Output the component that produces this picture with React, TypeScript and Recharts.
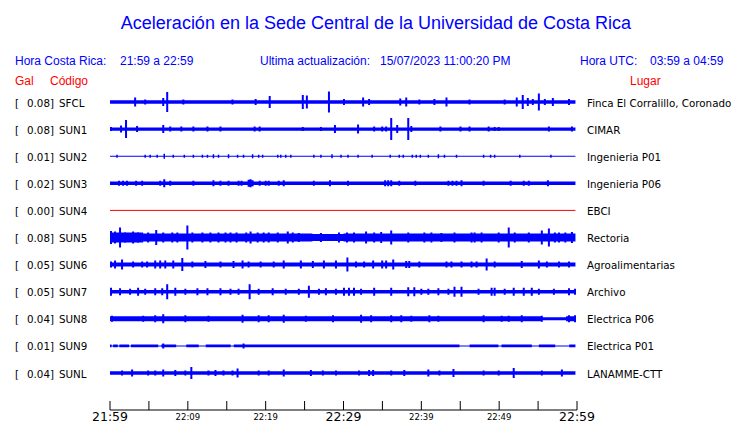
import React from 'react';
import { ComposedChart, Area, Line, XAxis, YAxis } from 'recharts';

// ---- categories / labels ----
const codes = ['SFCL', 'SUN1', 'SUN2', 'SUN3', 'SUN4', 'SUN5', 'SUN6', 'SUN7', 'SUN8', 'SUN9', 'SUNL'];
const pgaGal = ['0.08', '0.08', '0.01', '0.02', '0.00', '0.08', '0.05', '0.05', '0.04', '0.01', '0.04'];
const places = [
  'Finca El Corralillo, Coronado', 'CIMAR', 'Ingenieria P01', 'Ingenieria P06', 'EBCI', 'Rectoria',
  'Agroalimentarias', 'Archivo', 'Electrica P06', 'Electrica P01', 'LANAMME-CTT',
];
const traceColors = ['#0000ff', '#0000ff', '#0000ff', '#0000ff', '#ff0000', '#0000ff', '#0000ff', '#0000ff', '#0000ff', '#0000ff', '#0000ff'];

// time axis: minutes after 21:59
const timeTicks = [0, 5, 10, 15, 20, 25, 30, 35, 40, 45, 50, 55, 60];
const timeLabels: Record<number, string> = { 0: '21:59', 10: '22:09', 20: '22:19', 30: '22:29', 40: '22:39', 50: '22:49', 60: '22:59' };
const majorTimes = [0, 30, 60];
const traceEnd = 59.8;

// ---- background noise level (half amplitude, counts) ----
const baseLevel = [1.7, 1.7, 0.5, 1.8, 0, 4, 2, 1.8, 2.5, 1.3, 1.7];
// step changes of the noise band [minute, half amplitude]
const sun5Band = [[0, 5], [4, 4], [26, 3.5], [30, 4], [traceEnd, 4]];
const sun8Band = [[0, 2.5], [55.5, 1.5], [58.6, 2.5], [traceEnd, 2.5]];
const sun9Band = [[0, 1.3], [0.2, 0.5], [0.4, 1.3], [1.0, 0.5], [1.2, 1.3], [2.45, 0.5], [2.7, 1.3], [6.2, 0.5], [6.6, 1.3], [8.5, 0.5], [9.8, 1.3], [11.4, 0.5], [12.3, 1.3], [15.5, 0.5], [15.9, 1.3], [44.9, 0.5], [46.2, 1.3], [49.9, 0.5], [50.3, 1.3], [54.2, 0.5], [55.1, 1.3], [57.2, 0.5], [59.0, 1.3], [traceEnd, 1.3]];

// ---- bursts [minute, half amplitude] ----
const sfclBursts = [[3.23, 4.5], [4.52, 2.5], [6.84, 4], [7.35, 10], [9.42, 2.5], [15.74, 2.5], [18.71, 3], [20.52, 6], [24.77, 7], [25.29, 6.5], [28.13, 10.5], [30.06, 3], [32.52, 4.5], [33.29, 3], [37.29, 3.5], [38.06, 4.5], [39.74, 2.5], [41.68, 3], [43.23, 4.5], [46.19, 2.5], [50.71, 2.5], [52.26, 4.5], [53.03, 7], [53.68, 4], [54.32, 3], [55.1, 8.5], [55.87, 3], [56.9, 4], [58.97, 3]];
const sun1Bursts = [[0.13, 2], [1.42, 3.5], [2.06, 9], [3.48, 3], [6.84, 4], [7.74, 2.5], [9.16, 2.5], [10.71, 2.5], [12.52, 2.5], [14.19, 2.5], [18.58, 2.5], [19.23, 2.5], [24.77, 2], [27.1, 2], [28.9, 4], [31.87, 4.5], [33.94, 2.5], [34.97, 2.5], [35.48, 2.5], [36.13, 11], [36.9, 4], [38.32, 11], [38.71, 3], [42.45, 2.5], [45.03, 2.5], [46.19, 2.5], [48.65, 2.5], [49.42, 2], [49.94, 2], [56.39, 2.5], [59.35, 2.5]];
const sun2Bursts = [[0.9, 1.5], [4.52, 1.5], [5.16, 1.5], [6.06, 1.5], [6.97, 2.5], [8.13, 1.5], [9.55, 1.5], [10.71, 1.5], [11.87, 1.5], [12.52, 1.5], [13.29, 2], [13.94, 1.5], [15.23, 2], [16.39, 1.5], [17.16, 1.5], [18.32, 2], [19.1, 1.5], [19.61, 1.5], [21.55, 1.5], [21.94, 1.5], [22.58, 1.5], [23.23, 1.5], [26.19, 1.5], [27.1, 1.5], [28.52, 2], [29.68, 1.5], [30.58, 1.5], [31.87, 1.5], [33.68, 1.5], [36.0, 1.5], [37.16, 1.5], [37.68, 1.5], [38.84, 1.5], [39.35, 1.5], [39.87, 1.5], [40.9, 1.5], [42.19, 2], [42.97, 1.5], [44.52, 1.5], [48.0, 1.5], [48.9, 1.5], [49.42, 1.5], [52.65, 1.5], [56.65, 1.5]];
const sun3Bursts = [[1.16, 2.5], [1.68, 2.5], [2.19, 2.5], [3.35, 2.5], [4.13, 2.5], [6.45, 2.5], [6.97, 4], [7.74, 2.5], [10.71, 2.5], [13.29, 3], [14.19, 2.5], [15.23, 2.5], [16.52, 2.5], [16.9, 2.5], [17.81, 3.5], [18.06, 4], [18.32, 3], [19.23, 2.5], [20.0, 2.5], [20.39, 2.5], [21.68, 2.5], [22.32, 3], [26.19, 2.5], [28.26, 3], [30.58, 2.5], [35.35, 3], [35.74, 3], [36.13, 3], [37.16, 2.5], [39.23, 2.5], [43.48, 2.5], [44.0, 2.5], [44.52, 2.5], [45.16, 3], [48.0, 2.5], [51.48, 2.5], [53.16, 2.5], [53.81, 2.5], [56.26, 3]];
const sun4Bursts: number[][] = [];
const sun5Bursts = [[0.13, 6.5], [0.65, 6], [1.29, 10], [1.94, 5], [2.97, 6], [3.61, 5], [4.13, 5], [4.9, 5], [5.94, 7.5], [6.84, 5], [8.0, 5], [8.65, 5], [9.94, 12], [10.58, 5], [11.87, 5], [12.9, 5], [13.94, 5], [14.84, 5], [15.48, 5], [16.26, 5], [17.5, 5], [18.06, 6], [18.97, 5], [19.74, 5], [20.39, 5], [21.55, 5], [22.84, 6], [23.48, 5], [24.26, 4.5], [27.1, 4.5], [29.42, 5], [30.45, 5], [31.35, 5], [32.9, 6], [33.94, 5], [34.84, 5.5], [36.13, 7], [38.32, 5], [40.39, 5], [41.29, 5], [42.58, 4.5], [44.26, 5], [46.45, 5], [46.84, 5], [47.74, 5], [49.94, 5], [51.23, 10], [52.0, 5], [53.81, 5], [55.48, 7], [56.39, 9], [57.16, 5], [57.68, 5], [58.5, 5], [59.35, 5.5]];
const sun6Bursts = [[0.13, 3], [0.65, 4], [1.55, 5], [2.97, 3], [4.13, 3], [4.77, 3], [5.81, 4], [6.45, 4], [7.1, 4], [8.13, 4], [9.29, 6.5], [10.58, 3], [12.26, 3.5], [14.19, 3], [15.87, 3.5], [17.03, 4], [17.81, 3], [19.35, 3], [21.03, 3], [22.32, 4], [24.52, 4], [26.06, 3.5], [27.48, 4], [29.03, 4], [30.5, 7], [31.61, 3], [32.65, 3], [33.81, 4], [34.97, 4], [35.48, 4], [36.39, 5], [38.06, 3.5], [38.45, 3.5], [39.74, 3], [43.23, 3], [43.87, 3], [45.16, 3], [46.45, 3], [47.1, 3], [48.39, 6], [49.42, 3], [52.9, 3.5], [55.1, 4], [56.13, 3], [57.68, 3], [58.97, 3]];
const sun7Bursts = [[0.13, 4], [1.29, 3.5], [2.58, 3], [3.61, 4], [4.52, 3], [5.81, 3.5], [6.71, 3.5], [7.35, 7.5], [8.39, 4], [9.68, 3], [11.23, 3.5], [12.52, 3.5], [14.19, 3.5], [15.48, 3], [16.52, 3], [17.94, 7.5], [19.1, 3], [20.9, 3.5], [22.58, 3], [24.26, 3], [25.55, 6], [26.84, 3], [27.74, 3.5], [29.03, 3], [30.06, 4], [30.7, 4], [31.35, 4], [32.26, 3], [33.94, 4], [36.13, 4], [38.32, 4.5], [39.1, 4.5], [40.0, 3], [40.9, 3], [42.19, 3.5], [43.48, 3], [44.26, 5], [45.16, 5], [47.35, 3], [49.03, 4], [49.42, 4], [50.71, 3], [51.87, 4], [53.16, 4], [54.19, 4], [55.1, 3], [57.03, 3], [58.97, 3.5], [59.74, 3]];
const sun8Bursts = [[0.26, 3], [4.26, 3], [5.81, 3.5], [6.84, 4.5], [9.68, 3.5], [12.65, 3], [17.03, 4], [19.1, 3.5], [20.39, 3.5], [22.32, 4], [25.16, 3], [28.65, 3.5], [32.26, 4], [33.55, 3.5], [36.13, 3.5], [37.42, 3.5], [38.71, 3], [41.03, 3.5], [42.19, 3], [48.0, 3.5], [50.32, 3], [51.23, 3], [52.9, 3.5], [55.48, 3], [58.97, 3.5], [59.74, 3.5]];
const sun9Bursts = [[6.84, 2.5], [17.16, 2.5]];
const sunlBursts = [[1.55, 2.5], [2.84, 3.5], [4.9, 2.5], [5.81, 2.5], [6.84, 3.5], [8.39, 3], [9.68, 2.5], [10.45, 6], [12.65, 2.5], [13.55, 3], [14.58, 2.5], [15.74, 2.5], [16.39, 4.5], [19.1, 2.5], [20.39, 2.5], [22.32, 3.5], [25.81, 3], [27.35, 2.5], [29.03, 2.5], [32.0, 2.5], [33.29, 3], [33.81, 3], [36.13, 2.5], [37.81, 3], [40.9, 3.5], [42.32, 2.5], [44.13, 4], [48.0, 2.5], [49.94, 2.5], [51.87, 5], [55.48, 2.5], [58.06, 3.5]];

const allBursts = [sfclBursts, sun1Bursts, sun2Bursts, sun3Bursts, sun4Bursts, sun5Bursts, sun6Bursts, sun7Bursts, sun8Bursts, sun9Bursts, sunlBursts];
const bandOverrides: Record<number, number[][]> = { 5: sun5Band, 8: sun8Band, 9: sun9Band };

// counts per row spacing
const ROW_GAIN = 27.1;

const FONT_ROW = 'DejaVu Sans';
const FONT_HEAD = '"Liberation Sans", Arial, sans-serif';

const RowTick = (props: any) => {
  const { y, payload } = props;
  const i = payload.value - 1;
  const by = y + 4.5;
  return (
    <g fontFamily={FONT_ROW} fontSize={10.3} fill="#000">
      <text x={15} y={by}>[</text>
      <text x={54} y={by} textAnchor="end">{pgaGal[i]}]</text>
      <text x={59} y={by}>{codes[i]}</text>
      <text x={587} y={by}>{places[i]}</text>
    </g>
  );
};

const TimeTick = (props: any) => {
  const { x, y, payload } = props;
  const v = payload.value;
  const label = timeLabels[v];
  const major = majorTimes.includes(v);
  return (
    <g>
      <line x1={x} x2={x} y1={y - 9} y2={y} stroke="#000" strokeWidth={1} />
      {label && (
        <text x={x} y={major ? y + 10.5 : y + 9.5} textAnchor="middle" fontFamily={FONT_ROW}
          fontSize={major ? 12.5 : 8.5} fill="#000">{label}</text>
      )}
    </g>
  );
};

export default function App() {
  const series = codes.map((code, i) => {
    const row = i + 1;
    const steps = bandOverrides[i] || [[0, baseLevel[i]], [traceEnd, baseLevel[i]]];
    const band = steps.map(([t, a]) => ({ t, r: [row - a / ROW_GAIN, row + a / ROW_GAIN] }));
    const bursts = allBursts[i].flatMap(([t, a]) => [
      { t, v: row - a / ROW_GAIN },
      { t, v: row + a / ROW_GAIN },
      { t, v: null },
    ]);
    const flat = [{ t: 0, v: row }, { t: traceEnd, v: row }];
    return { code, row, band, bursts, flat, color: traceColors[i], level: baseLevel[i] };
  });

  return (
    <div style={{ position: 'absolute', left: 0, top: 0, width: 740, height: 423, background: '#fff' }}>
      <svg width={740} height={423} style={{ position: 'absolute', left: 0, top: 0 }}>
        <text x={376} y={28.5} textAnchor="middle" fontFamily={FONT_HEAD} fontSize={18} fill="#0000ff">
          Aceleración en la Sede Central de la Universidad de Costa Rica
        </text>
        <g fontFamily={FONT_HEAD} fontSize={12} fill="#0000ff">
          <text x={15} y={65}>Hora Costa Rica:</text>
          <text x={120} y={65}>21:59 a 22:59</text>
          <text x={260} y={65}>Ultima actualización:</text>
          <text x={380} y={65}>15/07/2023 11:00:20 PM</text>
          <text x={580} y={65}>Hora UTC:</text>
          <text x={650} y={65}>03:59 a 04:59</text>
        </g>
        <g fontFamily={FONT_HEAD} fontSize={12} fill="#ff0000">
          <text x={15} y={85}>Gal</text>
          <text x={50} y={85}>Código</text>
          <text x={630} y={85}>Lugar</text>
        </g>
      </svg>
      <div style={{ position: 'absolute', left: 0, top: 0 }}>
        <ComposedChart width={740} height={423} margin={{ top: 88, right: 163, bottom: 0, left: 0 }}>
          <XAxis dataKey="t" type="number" domain={[0, 60]} ticks={timeTicks} interval={0}
            allowDataOverflow height={13} tickSize={0} tickMargin={0} tickLine={false}
            axisLine={{ stroke: '#000', strokeWidth: 1 }} tick={<TimeTick />} />
          <YAxis type="number" domain={[0.4834, 12.365]} reversed allowDataOverflow width={110}
            ticks={[1, 2, 3, 4, 5, 6, 7, 8, 9, 10, 11]} interval={0} axisLine={false} tickLine={false}
            tick={<RowTick />} />
          {series.map((s) =>
            s.level > 0 ? (
              <Area key={'band' + s.code} data={s.band} dataKey="r" type="stepAfter" stroke="none"
                fill={s.color} fillOpacity={1} isAnimationActive={false} dot={false} activeDot={false} />
            ) : (
              <Line key={'flat' + s.code} data={s.flat} dataKey="v" type="linear" stroke={s.color}
                strokeWidth={1} dot={false} activeDot={false} isAnimationActive={false} />
            )
          )}
          {series.map((s) => (
            <Line key={'burst' + s.code} data={s.bursts} dataKey="v" type="linear" stroke={s.color}
              strokeWidth={s.code === 'SUN2' ? 1.5 : 2} dot={false} activeDot={false}
              connectNulls={false} isAnimationActive={false} />
          ))}
        </ComposedChart>
      </div>
    </div>
  );
}
